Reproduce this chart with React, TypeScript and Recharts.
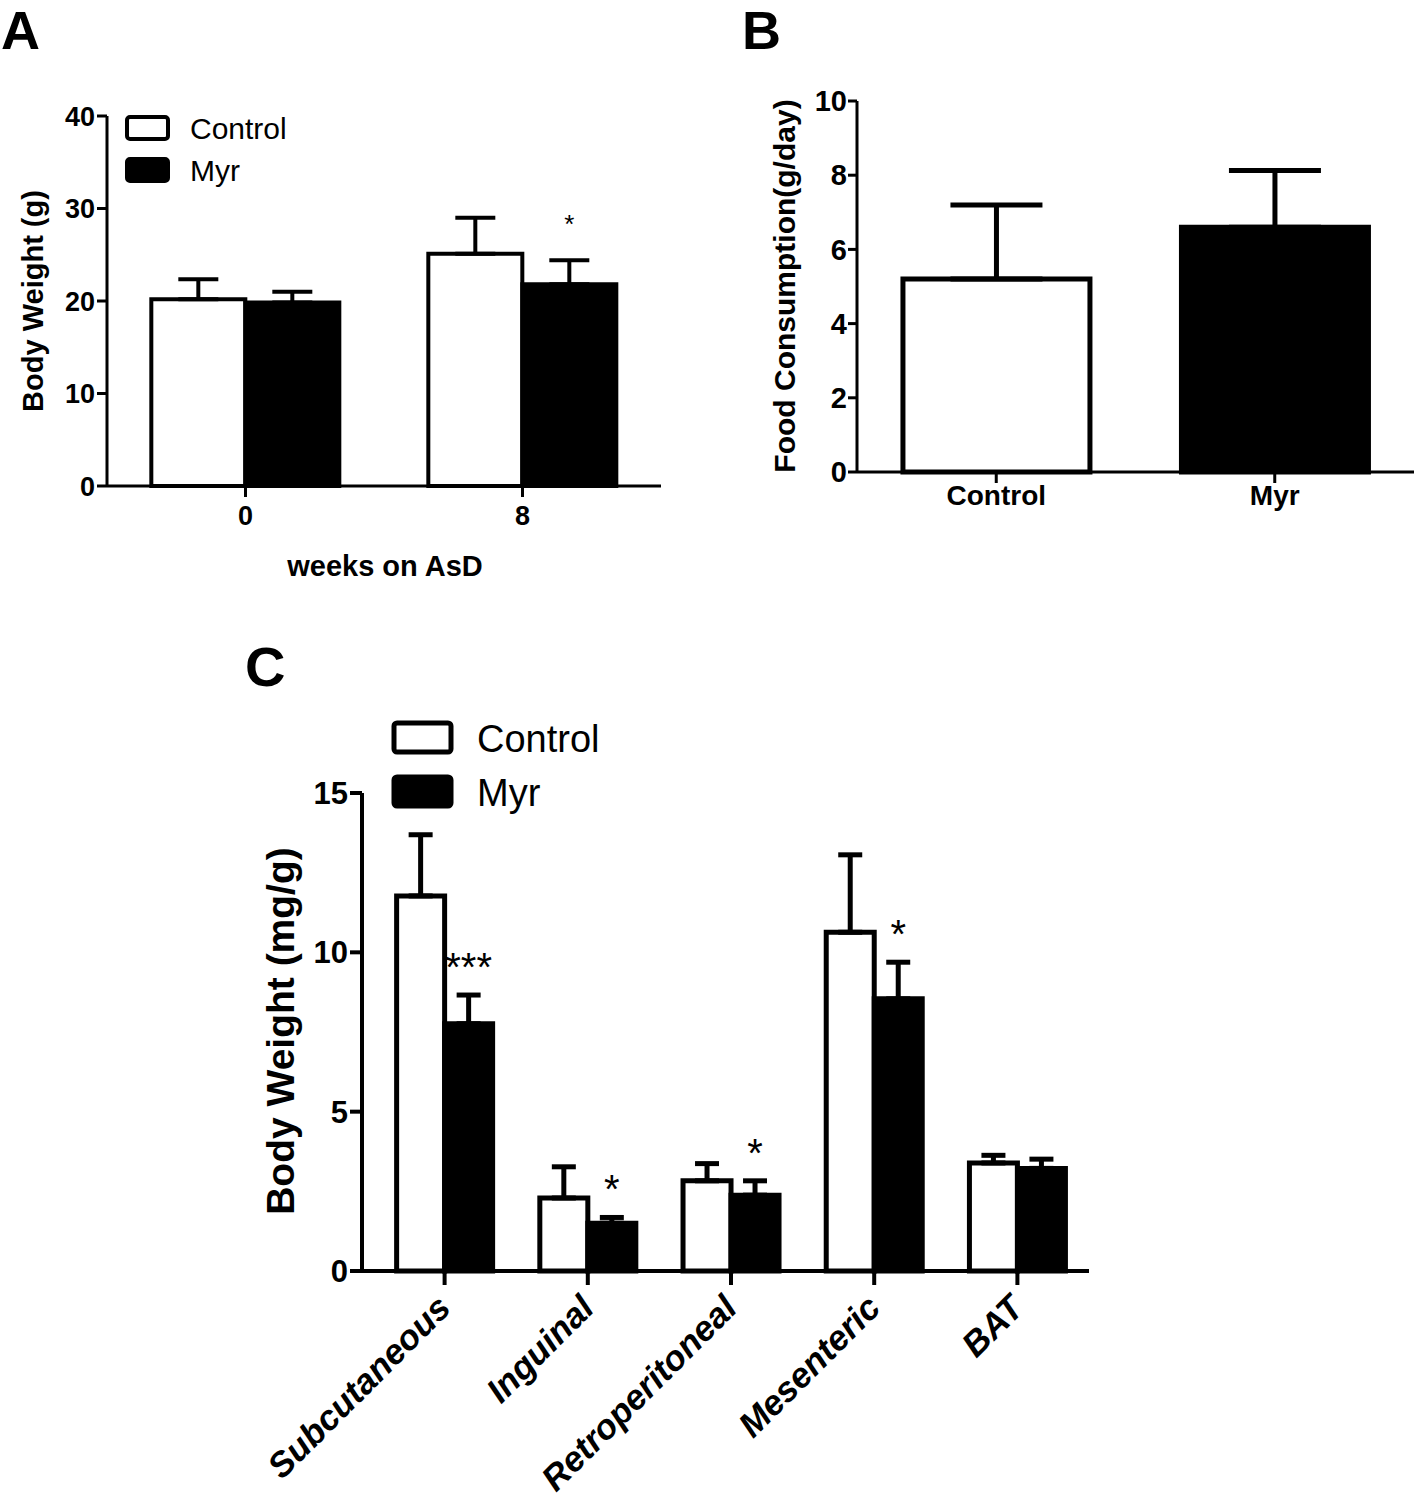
import React from 'react';
import { BarChart, Bar, XAxis, YAxis, ErrorBar, LabelList, Legend, Cell } from 'recharts';

const FONT = '"Liberation Sans", Arial, Helvetica, sans-serif';

// A: body weight over time
const weekLabels = ['0', '8'];
const weightControl = [20.2, 25.1];
const weightControlSem = [2.15, 3.9];
const weightMyr = [19.85, 21.8];
const weightMyrSem = [1.15, 2.6];
const weightSig = ['', '*'];
const weightTicks = [0, 10, 20, 30, 40];

// B: food consumption
const foodGroups = ['Control', 'Myr'];
const foodMeans = [5.2, 6.6];
const foodSem = [2.0, 1.53];
const foodTicks = [0, 2, 4, 6, 8, 10];

// C: fat depots
const fatDepots = ['Subcutaneous', 'Inguinal', 'Retroperitoneal', 'Mesenteric', 'BAT'];
const fatControl = [11.77, 2.29, 2.83, 10.63, 3.39];
const fatControlSem = [1.92, 0.98, 0.54, 2.43, 0.24];
const fatMyr = [7.76, 1.5, 2.38, 8.54, 3.22];
const fatMyrSem = [0.9, 0.18, 0.45, 1.15, 0.29];
const fatSig = ['***', '*', '*', '*', ''];
const fatTicks = [0, 5, 10, 15];

const weightData = weekLabels.map((week, i) => ({
  week,
  control: weightControl[i],
  controlErr: [0, weightControlSem[i]],
  myr: weightMyr[i],
  myrErr: [0, weightMyrSem[i]],
  sig: weightSig[i],
}));

const foodData = foodGroups.map((group, i) => ({
  group,
  value: foodMeans[i],
  err: [0, foodSem[i]],
}));

const fatData = fatDepots.map((depot, i) => ({
  depot,
  control: fatControl[i],
  controlErr: [0, fatControlSem[i]],
  myr: fatMyr[i],
  myrErr: [0, fatMyrSem[i]],
  sig: fatSig[i],
}));

// star above the error bar of the Myr bar
const starLabel = (sigs: string[], means: number[], sems: number[], fontSize: number, lift: number) => (props: any) => {
  const { x, y, width, height, index } = props;
  const sig = sigs[index];
  if (!sig) return null;
  const perUnit = height / means[index];
  const yErr = y - sems[index] * perUnit;
  return (
    <text x={x + width / 2} y={yErr - lift} textAnchor="middle" fontSize={fontSize} fontFamily={FONT} fill="#000">
      {sig}
    </text>
  );
};

const legendContent = (boxX: number, boxW: number, boxH: number, rowsY: number[], textX: number, fontSize: number, sw: number) => (props: any) => {
  const items = props.payload || [];
  return (
    <svg width={700} height={300} style={{ display: 'block', overflow: 'visible' }}>
      {items.map((it: any, i: number) => (
        <g key={i}>
          <rect x={boxX} y={rowsY[i]} width={boxW} height={boxH} rx={3} fill={i === 0 ? '#fff' : '#000'} stroke="#000" strokeWidth={sw} />
          <text x={textX} y={rowsY[i] + boxH} fontSize={fontSize} fontFamily={FONT} fill="#000">{it.value}</text>
        </g>
      ))}
    </svg>
  );
};

const AxisTitle = ({ px, py, text, size, rotate }: any) => (
  <text
    x={px}
    y={py}
    textAnchor="middle"
    fontSize={size}
    fontWeight={700}
    fontFamily={FONT}
    fill="#000"
    transform={rotate ? `rotate(-90, ${px}, ${py})` : undefined}
  >
    {text}
  </text>
);

const FatTick = (props: any) => {
  const { x, y, payload } = props;
  const ax = x + 8;
  const ay = y + 25;
  return (
    <text x={ax} y={ay} textAnchor="end" fontSize={35} fontWeight={700} fontStyle="italic" fontFamily={FONT} fill="#000" transform={`rotate(-45, ${ax}, ${ay})`}>
      {payload.value}
    </text>
  );
};

function PanelA() {
  return (
    <BarChart width={700} height={620} data={weightData} margin={{ top: 116, right: 39, bottom: 94, left: 47 }} barCategoryGap="16%" barGap={0}>
      <XAxis
        dataKey="week"
        interval={0}
        height={40}
        tickSize={11}
        tickMargin={9}
        axisLine={{ stroke: '#000', strokeWidth: 3 }}
        tickLine={{ stroke: '#000', strokeWidth: 3 }}
        tick={{ fill: '#000', fontSize: 27, fontWeight: 700, fontFamily: FONT }}
        label={<AxisTitle px={385} py={576} text="weeks on AsD" size={29} />}
      />
      <YAxis
        domain={[0, 40]}
        ticks={weightTicks}
        width={60}
        tickSize={10}
        tickMargin={2}
        axisLine={{ stroke: '#000', strokeWidth: 3 }}
        tickLine={{ stroke: '#000', strokeWidth: 3 }}
        tick={{ fill: '#000', fontSize: 27, fontWeight: 700, fontFamily: FONT }}
        label={<AxisTitle px={43} py={301} text="Body Weight (g)" size={29} rotate />}
      />
      <Legend
        verticalAlign="middle"
        align="center"
        wrapperStyle={{ left: 0, top: 0, width: 300, height: 200 }}
        content={legendContent(127, 41, 22, [117, 159], 190, 30, 4)}
      />
      <Bar dataKey="control" name="Control" fill="#fff" stroke="#000" strokeWidth={4} isAnimationActive={false}>
        <ErrorBar dataKey="controlErr" width={20} strokeWidth={4} stroke="#000" isAnimationActive={false} />
      </Bar>
      <Bar dataKey="myr" name="Myr" fill="#000" stroke="#000" strokeWidth={4} isAnimationActive={false}>
        <ErrorBar dataKey="myrErr" width={20} strokeWidth={4} stroke="#000" isAnimationActive={false} />
        <LabelList dataKey="sig" content={starLabel(weightSig, weightMyr, weightMyrSem, 26, 27)} />
      </Bar>
    </BarChart>
  );
}

function PanelB() {
  return (
    <BarChart width={718} height={620} data={foodData} margin={{ top: 101, right: 4, bottom: 108, left: 97 }} barCategoryGap="16.5%">
      <XAxis
        dataKey="group"
        interval={0}
        height={40}
        tickSize={11}
        tickMargin={2}
        axisLine={{ stroke: '#000', strokeWidth: 3 }}
        tickLine={{ stroke: '#000', strokeWidth: 3 }}
        tick={{ fill: '#000', fontSize: 28, fontWeight: 700, fontFamily: FONT }}
      />
      <YAxis
        domain={[0, 10]}
        ticks={foodTicks}
        width={60}
        tickSize={9}
        tickMargin={1}
        axisLine={{ stroke: '#000', strokeWidth: 3 }}
        tickLine={{ stroke: '#000', strokeWidth: 3 }}
        tick={{ fill: '#000', fontSize: 29, fontWeight: 700, fontFamily: FONT }}
        label={<AxisTitle px={95} py={286} text="Food Consumption(g/day)" size={30} rotate />}
      />
      <Bar dataKey="value" stroke="#000" strokeWidth={5} isAnimationActive={false}>
        {foodData.map((d, i) => (
          <Cell key={d.group} fill={i === 0 ? '#fff' : '#000'} />
        ))}
        <ErrorBar dataKey="err" width={46} strokeWidth={5} stroke="#000" isAnimationActive={false} />
      </Bar>
    </BarChart>
  );
}

function PanelC() {
  return (
    <BarChart width={1418} height={900} data={fatData} margin={{ top: 193, right: 329, bottom: 29, left: 302 }} barCategoryGap="16.5%" barGap={0}>
      <XAxis
        dataKey="depot"
        interval={0}
        height={200}
        tickSize={14}
        tickMargin={0}
        padding={{ left: 11, right: 0 }}
        axisLine={{ stroke: '#000', strokeWidth: 4 }}
        tickLine={{ stroke: '#000', strokeWidth: 4 }}
        tick={<FatTick />}
      />
      <YAxis
        domain={[0, 15]}
        ticks={fatTicks}
        width={60}
        tickSize={12}
        tickMargin={2}
        axisLine={{ stroke: '#000', strokeWidth: 4 }}
        tickLine={{ stroke: '#000', strokeWidth: 4 }}
        tick={{ fill: '#000', fontSize: 31, fontWeight: 700, fontFamily: FONT }}
        label={<AxisTitle px={294} py={431} text="Body Weight (mg/g)" size={39} rotate />}
      />
      <Legend
        verticalAlign="middle"
        align="center"
        wrapperStyle={{ left: 0, top: 0, width: 700, height: 250 }}
        content={legendContent(394, 57, 29, [123, 177], 477, 38, 5)}
      />
      <Bar dataKey="control" name="Control" fill="#fff" stroke="#000" strokeWidth={5} isAnimationActive={false}>
        <ErrorBar dataKey="controlErr" width={12} strokeWidth={5} stroke="#000" isAnimationActive={false} />
      </Bar>
      <Bar dataKey="myr" name="Myr" fill="#000" stroke="#000" strokeWidth={5} isAnimationActive={false}>
        <ErrorBar dataKey="myrErr" width={12} strokeWidth={5} stroke="#000" isAnimationActive={false} />
        <LabelList dataKey="sig" content={starLabel(fatSig, fatMyr, fatMyrSem, 40, 14)} />
      </Bar>
    </BarChart>
  );
}

export default function App() {
  return (
    <div style={{ position: 'absolute', left: 0, top: 0, width: 1418, height: 1500, background: '#fff', fontFamily: FONT }}>
      <svg width={1418} height={1500} style={{ position: 'absolute', left: 0, top: 0 }}>
        <text x={1} y={49} fontSize={54} fontWeight={700} fontFamily={FONT}>A</text>
        <text x={742} y={49} fontSize={54} fontWeight={700} fontFamily={FONT}>B</text>
        <text x={245} y={686} fontSize={56} fontWeight={700} fontFamily={FONT}>C</text>
      </svg>
      <div style={{ position: 'absolute', left: 0, top: 0 }}>
        <PanelA />
      </div>
      <div style={{ position: 'absolute', left: 700, top: 0 }}>
        <PanelB />
      </div>
      <div style={{ position: 'absolute', left: 0, top: 600 }}>
        <PanelC />
      </div>
    </div>
  );
}
